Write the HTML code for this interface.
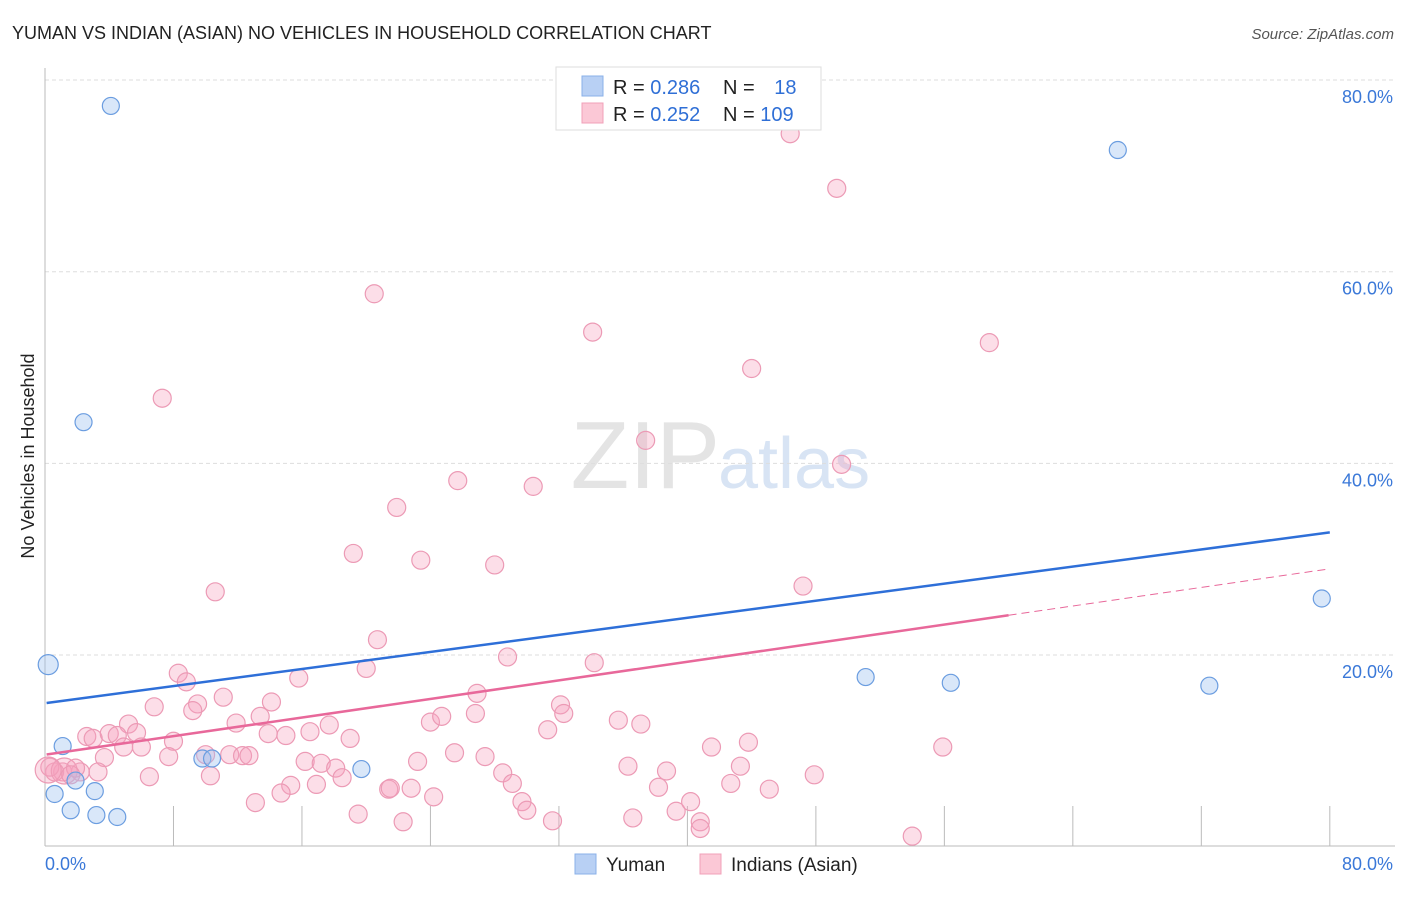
<!DOCTYPE html>
<html><head><meta charset="utf-8"><style>
body{margin:0;background:#fff;font-family:"Liberation Sans",sans-serif}
svg text{font-family:"Liberation Sans",sans-serif}
</style></head><body>
<svg id="c" width="1406" height="892">
<text x="12" y="39" font-size="18" fill="#222">YUMAN VS INDIAN (ASIAN) NO VEHICLES IN HOUSEHOLD CORRELATION CHART</text>
<text x="1394" y="39" font-size="15" fill="#555" font-style="italic" text-anchor="end">Source: ZipAtlas.com</text>
<text x="720" y="488" font-size="96" fill="#e4e4e4" font-family="Liberation Serif" text-anchor="end">ZIP</text>
<text x="718" y="488" font-size="72" fill="#d8e4f4">atlas</text>
<text transform="translate(34,456) rotate(-90)" font-size="18" fill="#222" text-anchor="middle">No Vehicles in Household</text>
<g id="grid"></g><g id="pts"></g><g id="lines"></g>
<g>
<rect x="556" y="67" width="265" height="63" fill="#fff" stroke="#ddd"/>
<rect x="582" y="76" width="21" height="20" fill="#b8d0f4" stroke="#8ab0e8"/>
<rect x="582" y="103" width="21" height="20" fill="#fbc8d6" stroke="#f0a0b8"/>
<text x="613" y="94" font-size="20" fill="#222">R = <tspan fill="#2f6fd6">0.286</tspan></text>
<text x="723" y="94" font-size="20" fill="#222">N = <tspan fill="#2f6fd6" dx="14">18</tspan></text>
<text x="613" y="121" font-size="20" fill="#222">R = <tspan fill="#2f6fd6">0.252</tspan></text>
<text x="723" y="121" font-size="20" fill="#222">N = <tspan fill="#2f6fd6">109</tspan></text>
</g>
<g>
<rect x="575" y="854" width="21" height="20" fill="#b8d0f4" stroke="#8ab0e8"/>
<text x="606" y="871" font-size="19" fill="#222">Yuman</text>
<rect x="700" y="854" width="21" height="20" fill="#fbc8d6" stroke="#f0a0b8"/>
<text x="731" y="871" font-size="19" fill="#222">Indians (Asian)</text>
</g>
</svg>
<script>
const yTicks=[20,40,60,80];
const yTickLabels=["20.0%","40.0%","60.0%","80.0%"];
const xTicks=[0,8,16,24,32,40,48,56,64,72,80];
const blueX=[4.1,2.4,0.2,1.1,0.6,1.9,3.1,1.6,3.2,4.5,9.8,10.4,19.7,51.1,56.4,66.8,72.5,79.5];
const blueY=[77.3,44.3,19.0,10.5,5.5,6.9,5.8,3.8,3.3,3.1,9.2,9.2,8.1,17.7,17.1,72.7,16.8,25.9];
const pinkX=[20.7,28.8,20.0,15.8,8.3,8.8,6.8,11.1,9.5,9.2,14.1,13.4,11.9,5.2,2.6,3.0,4.0,4.5,5.7,4.9,6.0,8.0,13.9,15.0,16.5,17.7,19.0,24.0,24.7,26.9,26.8,3.7,7.7,10.0,11.5,12.3,12.7,3.3,2.2,1.1,0.6,0.3,6.5,10.3,16.2,17.2,18.1,18.5,16.9,15.3,14.7,13.1,19.5,21.4,21.5,22.8,24.2,22.3,23.2,25.5,27.4,28.5,29.1,29.7,30.0,46.4,49.3,20.5,34.1,58.8,44.0,7.3,37.4,49.6,25.7,30.4,21.9,19.2,23.4,28.0,10.6,47.2,34.2,32.1,32.3,31.3,35.7,37.1,41.5,43.8,55.9,36.3,38.7,43.3,47.9,42.7,38.2,39.3,40.2,40.8,40.8,36.6,31.6,54.0,45.1,1.2,0.2,1.9,1.6];
const pinkY=[21.6,19.8,18.6,17.6,18.1,17.2,14.6,15.6,14.9,14.2,15.1,13.6,12.9,12.8,11.5,11.3,11.8,11.6,11.9,10.4,10.4,11.0,11.8,11.6,12.0,12.7,11.3,13.0,13.6,16.0,13.9,9.3,9.4,9.6,9.6,9.5,9.5,7.8,7.8,7.8,7.8,8.3,7.3,7.4,8.9,8.7,8.2,7.2,6.5,6.4,5.6,4.6,3.4,6.0,6.1,6.1,5.2,2.6,8.9,9.8,9.4,7.7,6.6,4.7,3.8,74.4,68.7,57.7,53.7,52.6,49.9,46.8,42.4,39.9,38.2,37.6,35.4,30.6,29.9,29.4,26.6,27.2,19.2,14.8,13.9,12.2,13.2,12.8,10.4,10.9,10.4,8.4,7.9,8.4,7.5,6.6,6.2,3.7,4.7,2.6,1.9,3.0,2.7,1.1,6.0,7.9,8.0,8.2,7.5];
const blueTrend=[15.0,32.8];
const pinkTrend=[9.6,29.0];
const X=v=>45+v*16.06, Y=v=>846.7-v*9.583;
const NS="http://www.w3.org/2000/svg";
function mk(t,a,p){const e=document.createElementNS(NS,t);for(const k in a)e.setAttribute(k,a[k]);p.appendChild(e);return e;}
const g=document.getElementById('grid');
yTicks.forEach((v,i)=>{
 const l=mk('line',{x1:45,x2:1395,y1:Y(v),y2:Y(v),stroke:'#ddd','stroke-dasharray':'4,3'},g);
 
 
 const t=mk('text',{x:1393,y:Y(v)+23,'font-size':18,fill:'#3a78d8','text-anchor':'end'},g);
 t.textContent=yTickLabels[i];
 
 
});
mk('line',{x1:45,x2:45,y1:68,y2:846,stroke:'#bbb'},g);
mk('line',{x1:45,x2:1395,y1:846,y2:846,stroke:'#bbb'},g);
xTicks.forEach(v=>{const l=mk('line',{x1:X(v),x2:X(v),y1:806,y2:846,stroke:'#bbb'},g);
 
 });
let t=mk('text',{x:45,y:870,'font-size':18,fill:'#3a78d8'},g);t.textContent='0.0%';


t=mk('text',{x:1393,y:870,'font-size':18,fill:'#3a78d8','text-anchor':'end'},g);t.textContent='80.0%';


const p=document.getElementById('pts');
pinkX.forEach((x,i)=>{const c=mk('circle',{cx:X(x),cy:Y(pinkY[i]),r:(x<1.5&&pinkY[i]<8.1&&pinkY[i]>7.8)?13:9,fill:'rgba(245,160,188,0.35)',stroke:'#ec9ab5','stroke-width':1.2},p);
 
 });
blueX.forEach((x,i)=>{const c=mk('circle',{cx:X(x),cy:Y(blueY[i]),r:i==2?10:8.5,fill:'rgba(160,195,240,0.4)',stroke:'#6b9de0','stroke-width':1.2},p);
 
 });
const L=document.getElementById('lines');
let l=mk('line',{x1:X(0.1),y1:Y(blueTrend[0]),x2:X(80),y2:Y(blueTrend[1]),stroke:'#2e6fd8','stroke-width':2.5},L);


const pm=v=>pinkTrend[0]+(pinkTrend[1]-pinkTrend[0])*v/80;
l=mk('line',{x1:X(0.1),y1:Y(pm(0.1)),x2:X(60),y2:Y(pm(60)),stroke:'#e8689a','stroke-width':2.5},L);


l=mk('line',{x1:X(60),y1:Y(pm(60)),x2:X(80),y2:Y(pm(80)),stroke:'#e8689a','stroke-width':1,'stroke-dasharray':'8,5'},L);


</script>
</body></html>
